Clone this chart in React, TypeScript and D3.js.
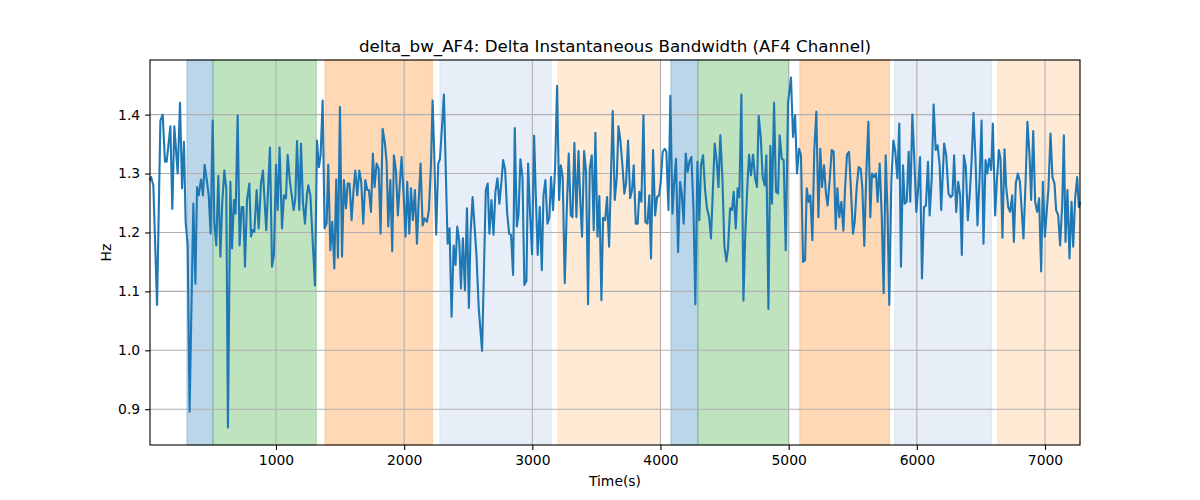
import React, { useRef, useEffect } from "react";
import * as d3 from "d3";

// Time (s) of each sample
const timeS = [
  17, 25, 43, 72, 98, 116, 134, 147, 176, 191, 207, 233, 251, 267, 282, 295, 311, 326, 355, 371,
  384, 397, 415, 430, 443, 462, 475, 490, 506, 519, 534, 550, 566, 581, 597, 612, 625, 644, 657, 672,
  685, 701, 716, 732, 745, 758, 774, 792, 805, 818, 831, 849, 865, 883, 898, 924, 953, 969, 984, 1000,
  1013, 1028, 1047, 1062, 1078, 1091, 1109, 1138, 1151, 1164, 1182, 1195, 1210, 1226, 1242, 1252, 1268, 1304, 1320, 1335,
  1348, 1364, 1379, 1395, 1408, 1424, 1439, 1455, 1470, 1483, 1499, 1515, 1530, 1546, 1559, 1574, 1590, 1606, 1619, 1634,
  1650, 1665, 1681, 1697, 1712, 1725, 1741, 1756, 1769, 1785, 1801, 1816, 1832, 1850, 1863, 1876, 1892, 1907, 1920, 1936,
  1951, 1967, 1980, 1996, 2011, 2024, 2040, 2053, 2068, 2084, 2100, 2113, 2128, 2144, 2159, 2178, 2193, 2209, 2222, 2235,
  2250, 2266, 2279, 2295, 2310, 2339, 2354, 2370, 2386, 2401, 2414, 2430, 2443, 2458, 2474, 2490, 2505, 2518, 2534, 2564,
  2582, 2608, 2637, 2652, 2665, 2681, 2697, 2712, 2728, 2743, 2759, 2772, 2788, 2803, 2819, 2834, 2850, 2863, 2879, 2892,
  2907, 2923, 2938, 2954, 2967, 2983, 2998, 3014, 3027, 3042, 3058, 3074, 3087, 3102, 3118, 3133, 3146, 3162, 3178, 3193,
  3209, 3222, 3237, 3253, 3269, 3284, 3300, 3313, 3328, 3344, 3360, 3375, 3388, 3404, 3419, 3435, 3448, 3464, 3479, 3492,
  3508, 3523, 3539, 3552, 3568, 3583, 3599, 3627, 3643, 3659, 3672, 3687, 3703, 3718, 3731, 3747, 3763, 3778, 3791, 3807,
  3822, 3835, 3851, 3867, 3882, 3898, 3913, 3926, 3942, 3958, 3973, 3989, 4002, 4017, 4033, 4046, 4062, 4077, 4093, 4106,
  4121, 4137, 4153, 4166, 4181, 4197, 4212, 4225, 4241, 4257, 4272, 4288, 4303, 4316, 4332, 4348, 4363, 4379, 4394, 4410,
  4423, 4439, 4452, 4467, 4483, 4498, 4514, 4527, 4543, 4558, 4571, 4587, 4602, 4615, 4631, 4647, 4662, 4678, 4691, 4706,
  4722, 4738, 4753, 4766, 4782, 4797, 4813, 4826, 4842, 4857, 4870, 4886, 4901, 4917, 4930, 4946, 4961, 4977, 4995, 5018,
  5034, 5050, 5065, 5081, 5096, 5112, 5128, 5141, 5156, 5169, 5185, 5200, 5216, 5232, 5247, 5260, 5276, 5291, 5304, 5320,
  5336, 5351, 5367, 5380, 5395, 5411, 5427, 5440, 5455, 5471, 5486, 5502, 5515, 5531, 5546, 5562, 5575, 5590, 5606, 5622,
  5637, 5650, 5666, 5681, 5694, 5710, 5726, 5741, 5757, 5772, 5785, 5801, 5817, 5832, 5848, 5863, 5876, 5892, 5905, 5921,
  5936, 5949, 5965, 5980, 5996, 6012, 6025, 6040, 6056, 6071, 6087, 6100, 6116, 6131, 6147, 6162, 6178, 6190, 6213, 6229,
  6247, 6263, 6278, 6291, 6307, 6323, 6338, 6351, 6367, 6382, 6398, 6414, 6427, 6442, 6458, 6473, 6489, 6505, 6520, 6536,
  6549, 6564, 6580, 6593, 6611, 6624, 6640, 6653, 6668, 6684, 6697, 6713, 6728, 6744, 6757, 6772, 6788, 6804, 6819, 6832,
  6848, 6863, 6879, 6892, 6908, 6923, 6939, 6954, 6970, 6983, 6999, 7014, 7027, 7043, 7058, 7074, 7087, 7103, 7118, 7134,
  7147, 7160, 7175, 7191, 7207, 7220, 7235, 7251, 7264, 7273,
];

// delta_bw_AF4 (Hz)
const deltaBw = [
  1.29, 1.294, 1.28, 1.077, 1.39, 1.4, 1.32, 1.32, 1.38, 1.24, 1.38, 1.3, 1.42, 1.275, 1.354, 1.218, 1.178, 0.896, 1.249, 1.113,
  1.277, 1.263, 1.29, 1.263, 1.315, 1.286, 1.263, 1.198, 1.39, 1.218, 1.178, 1.296, 1.159, 1.252, 1.305, 1.275, 0.869, 1.286, 1.173, 1.255,
  1.232, 1.399, 1.178, 1.243, 1.243, 1.142, 1.255, 1.283, 1.193, 1.204, 1.201, 1.272, 1.207, 1.283, 1.305, 1.204, 1.344, 1.142, 1.162, 1.315,
  1.238, 1.344, 1.207, 1.263, 1.258, 1.332, 1.286, 1.238, 1.258, 1.355, 1.238, 1.351, 1.252, 1.215, 1.266, 1.28, 1.263, 1.11, 1.356, 1.311,
  1.331, 1.424, 1.207, 1.215, 1.315, 1.17, 1.218, 1.139, 1.29, 1.157, 1.413, 1.159, 1.289, 1.241, 1.283, 1.283, 1.221, 1.275, 1.305, 1.263,
  1.305, 1.286, 1.215, 1.289, 1.272, 1.272, 1.235, 1.334, 1.277, 1.317, 1.308, 1.198, 1.376, 1.351, 1.32, 1.21, 1.289, 1.168, 1.331, 1.305,
  1.229, 1.286, 1.328, 1.263, 1.193, 1.286, 1.198, 1.275, 1.221, 1.272, 1.181, 1.252, 1.317, 1.212, 1.224, 1.218, 1.238, 1.314, 1.424, 1.331,
  1.196, 1.317, 1.325, 1.379, 1.434, 1.181, 1.207, 1.057, 1.178, 1.145, 1.21, 1.184, 1.105, 1.19, 1.102, 1.241, 1.072, 1.198, 1.26, 1.162,
  1.071, 0.999, 1.272, 1.283, 1.198, 1.255, 1.196, 1.269, 1.292, 1.249, 1.286, 1.323, 1.306, 1.235, 1.198, 1.196, 1.128, 1.377, 1.21, 1.229,
  1.324, 1.294, 1.111, 1.118, 1.317, 1.229, 1.163, 1.364, 1.263, 1.162, 1.243, 1.136, 1.263, 1.289, 1.215, 1.226, 1.294, 1.238, 1.314, 1.449,
  1.255, 1.314, 1.294, 1.114, 1.241, 1.334, 1.229, 1.226, 1.352, 1.226, 1.338, 1.249, 1.193, 1.338, 1.303, 1.078, 1.308, 1.331, 1.204, 1.369,
  1.193, 1.262, 1.085, 1.225, 1.221, 1.26, 1.176, 1.406, 1.255, 1.294, 1.38, 1.356, 1.314, 1.266, 1.283, 1.356, 1.258, 1.272, 1.314, 1.215,
  1.215, 1.269, 1.252, 1.399, 1.218, 1.215, 1.263, 1.156, 1.34, 1.229, 1.26, 1.263, 1.286, 1.337, 1.342, 1.337, 1.238, 1.432, 1.232, 1.283,
  1.325, 1.167, 1.286, 1.266, 1.215, 1.334, 1.303, 1.32, 1.328, 1.241, 1.078, 1.32, 1.221, 1.314, 1.331, 1.272, 1.241, 1.226, 1.19, 1.28,
  1.351, 1.32, 1.277, 1.365, 1.292, 1.178, 1.151, 1.173, 1.241, 1.238, 1.269, 1.207, 1.275, 1.26, 1.434, 1.084, 1.201, 1.28, 1.332, 1.297,
  1.332, 1.292, 1.277, 1.398, 1.362, 1.294, 1.28, 1.331, 1.07, 1.347, 1.249, 1.42, 1.269, 1.266, 1.365, 1.325, 1.323, 1.17, 1.42, 1.463,
  1.362, 1.399, 1.3, 1.342, 1.331, 1.15, 1.153, 1.275, 1.252, 1.263, 1.187, 1.34, 1.405, 1.226, 1.342, 1.277, 1.314, 1.266, 1.246, 1.289,
  1.34, 1.337, 1.206, 1.275, 1.226, 1.252, 1.203, 1.275, 1.332, 1.337, 1.272, 1.198, 1.218, 1.277, 1.311, 1.308, 1.275, 1.177, 1.303, 1.388,
  1.226, 1.3, 1.294, 1.3, 1.252, 1.317, 1.229, 1.097, 1.331, 1.229, 1.077, 1.286, 1.356, 1.337, 1.292, 1.385, 1.142, 1.314, 1.249, 1.252,
  1.337, 1.252, 1.4, 1.325, 1.235, 1.28, 1.328, 1.122, 1.243, 1.246, 1.32, 1.229, 1.292, 1.417, 1.34, 1.348, 1.314, 1.238, 1.351, 1.331,
  1.266, 1.26, 1.263, 1.331, 1.235, 1.286, 1.263, 1.162, 1.331, 1.311, 1.221, 1.269, 1.32, 1.403, 1.323, 1.212, 1.289, 1.39, 1.181, 1.323,
  1.3, 1.325, 1.306, 1.385, 1.229, 1.286, 1.34, 1.325, 1.191, 1.341, 1.277, 1.243, 1.235, 1.263, 1.184, 1.283, 1.3, 1.286, 1.235, 1.19,
  1.283, 1.388, 1.331, 1.255, 1.372, 1.252, 1.235, 1.258, 1.134, 1.286, 1.193, 1.238, 1.275, 1.368, 1.294, 1.283, 1.238, 1.229, 1.178, 1.246,
  1.365, 1.184, 1.272, 1.156, 1.252, 1.176, 1.258, 1.294, 1.243, 1.25,
];

// Shaded phases: start, end, colour
const spanStart = [305, 508, 1382, 2279, 3200, 4081, 4292, 5087, 5828, 6630];
const spanEnd = [508, 1315, 2220, 3147, 3998, 4292, 5001, 5786, 6582, 7273];
const spanColor = [
  "#1f77b4", "#2ca02c", "#ff7f0e", "#aec7e8", "#ffbb78",
  "#1f77b4", "#2ca02c", "#ff7f0e", "#aec7e8", "#ffbb78",
];

const xTicks = [1000, 2000, 3000, 4000, 5000, 6000, 7000];
const yTicks = [0.9, 1.0, 1.1, 1.2, 1.3, 1.4];

const FONT = "'DejaVu Sans', sans-serif";

const App: React.FC = () => {
  const ref = useRef<SVGSVGElement | null>(null);

  useEffect(() => {
    const width = 1200;
    const height = 500;
    const margin = { top: 60, right: 120, bottom: 55, left: 150 };
    const w = width - margin.left - margin.right;
    const h = height - margin.top - margin.bottom;

    d3.select(ref.current).selectAll("*").remove();

    const root = d3.select(ref.current).attr("width", width).attr("height", height);
    root.append("rect").attr("width", width).attr("height", height).attr("fill", "#fff");

    const svg = root.append("g").attr("transform", `translate(${margin.left},${margin.top})`);

    const data = timeS.map((t, i) => ({ t, v: deltaBw[i] }));

    // x limits follow the data, y gets matplotlib's 5% margin
    const x = d3
      .scaleLinear()
      .domain(d3.extent(timeS) as [number, number])
      .range([0, w]);
    const yMin = d3.min(deltaBw) ?? 0;
    const yMax = d3.max(deltaBw) ?? 1;
    const pad = (yMax - yMin) * 0.05;
    const y = d3
      .scaleLinear()
      .domain([yMin - pad, yMax + pad])
      .range([h, 0]);

    // Spans
    spanStart.forEach((s, i) => {
      const x0 = x(s);
      const x1 = Math.min(x(spanEnd[i]), w);
      svg
        .append("rect")
        .attr("x", x0)
        .attr("y", 0)
        .attr("width", x1 - x0)
        .attr("height", h)
        .attr("fill", spanColor[i])
        .attr("fill-opacity", 0.3)
        .attr("stroke", spanColor[i])
        .attr("stroke-opacity", 0.3)
        .attr("stroke-width", 1);
    });

    // Grid
    svg
      .append("g")
      .selectAll("line")
      .data(xTicks)
      .enter()
      .append("line")
      .attr("x1", (d) => x(d))
      .attr("x2", (d) => x(d))
      .attr("y1", 0)
      .attr("y2", h)
      .attr("stroke", "#b0b0b0")
      .attr("stroke-width", 1.1);
    svg
      .append("g")
      .selectAll("line")
      .data(yTicks)
      .enter()
      .append("line")
      .attr("x1", 0)
      .attr("x2", w)
      .attr("y1", (d) => y(d))
      .attr("y2", (d) => y(d))
      .attr("stroke", "#b0b0b0")
      .attr("stroke-width", 1.1);

    // Line
    const line = d3
      .line<{ t: number; v: number }>()
      .x((d) => x(d.t))
      .y((d) => y(d.v));
    svg
      .append("path")
      .datum(data)
      .attr("fill", "none")
      .attr("stroke", "#1f77b4")
      .attr("stroke-width", 2.1)
      .attr("stroke-linejoin", "round")
      .attr("stroke-linecap", "square")
      .attr("d", line);

    // Frame
    svg
      .append("rect")
      .attr("x", 0)
      .attr("y", 0)
      .attr("width", w)
      .attr("height", h)
      .attr("fill", "none")
      .attr("stroke", "#000")
      .attr("stroke-width", 1.1);

    // Axes
    const xAxis = svg
      .append("g")
      .attr("transform", `translate(0,${h})`)
      .call(d3.axisBottom(x).tickValues(xTicks).tickFormat(d3.format("d")).tickSize(4.9).tickPadding(4.9) as any);
    const yAxis = svg
      .append("g")
      .call(d3.axisLeft(y).tickValues(yTicks).tickFormat(d3.format(".1f")).tickSize(4.9).tickPadding(4.9) as any);
    [xAxis, yAxis].forEach((g) => {
      g.select(".domain").remove();
      g.selectAll("line").attr("stroke", "#000").attr("stroke-width", 1.1);
      g.selectAll("text")
        .attr("fill", "#000")
        .style("font-family", FONT)
        .style("font-size", "13.9px");
    });

    // Labels
    svg
      .append("text")
      .attr("x", w / 2)
      .attr("y", -8.5)
      .attr("text-anchor", "middle")
      .style("font-family", FONT)
      .style("font-size", "16.7px")
      .attr("fill", "#000")
      .text("delta_bw_AF4: Delta Instantaneous Bandwidth (AF4 Channel)");
    svg
      .append("text")
      .attr("x", w / 2)
      .attr("y", h + 40.5)
      .attr("text-anchor", "middle")
      .style("font-family", FONT)
      .style("font-size", "13.9px")
      .attr("fill", "#000")
      .text("Time(s)");
    svg
      .append("text")
      .attr("transform", "rotate(-90)")
      .attr("x", -h / 2)
      .attr("y", -39)
      .attr("text-anchor", "middle")
      .style("font-family", FONT)
      .style("font-size", "13.9px")
      .attr("fill", "#000")
      .text("Hz");
  }, []);

  return (
    <svg
      ref={ref}
      style={{ position: "absolute", left: 0, top: 0, display: "block" }}
    />
  );
};

export default App;
